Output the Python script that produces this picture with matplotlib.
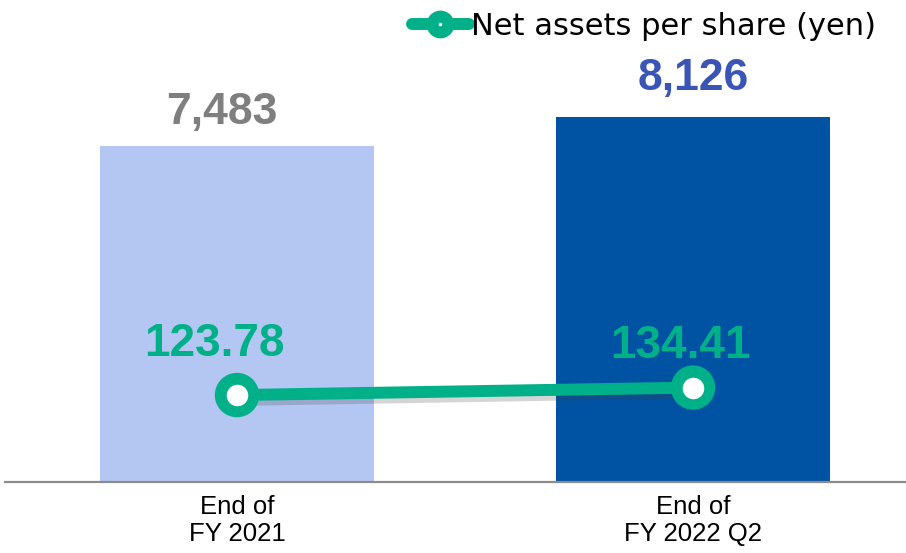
import matplotlib
matplotlib.use("Agg")
from matplotlib import pyplot as plt
from matplotlib import patheffects as pe
from matplotlib.lines import Line2D

# data
categories = ["End of\nFY 2021", "End of\nFY 2022 Q2"]
bar_values = [7483, 8126]
bar_labels = ["7,483", "8,126"]
nav_per_share = [123.78, 134.41]
nav_labels = ["123.78", "134.41"]

bar_colors = ["#B4C6F2", "#0052A3"]
bar_text_colors = ["#7F7F7F", "#3A55B5"]
green = "#00B088"

fig = plt.figure(figsize=(9.06, 5.53), dpi=100)
ax = fig.add_axes([0, 0, 1, 1])
x = list(range(len(categories)))

ax.bar(x, bar_values, width=0.601, color=bar_colors, zorder=1)
ax.set_xlim(-0.5197, 1.467)
ax.set_ylim(-1581, 10734)
ax.axhline(0, xmin=5 / 906, xmax=1, color="#8C8C8C", lw=1.6, zorder=2)

# bar value labels
offsets = [(-11, 24), (0, 28)]
for i, (v, lab) in enumerate(zip(bar_values, bar_labels)):
    ax.annotate(lab, (i, v), xytext=offsets[i], textcoords="offset points",
                ha="center", va="center", fontsize=32, fontweight="bold",
                color=bar_text_colors[i], family="Liberation Sans")

# category labels
for i, c in enumerate(categories):
    ax.annotate(c, (i, 0), xytext=(0, -9), textcoords="offset points",
                ha="center", va="top", fontsize=18.5, family="Liberation Sans",
                linespacing=1.2, color="black")

ax.axis("off")

# line on secondary scale
ax2 = ax.twinx()
ax2.set_ylim(-101, 686)
ax2.axis("off")
shadow = [pe.SimpleLineShadow(offset=(1.5, -3.5), shadow_color="#404040", alpha=0.22), pe.Normal()]
ax2.plot(x, nav_per_share, color=green, lw=8.6, solid_capstyle="round",
         marker="o", markersize=32, markerfacecolor=green, markeredgewidth=0,
         path_effects=shadow, zorder=3)
ax2.plot(x, nav_per_share, ls="none", marker="o", markersize=15.5,
         markerfacecolor="white", markeredgewidth=0, zorder=4)

line_offsets = [(-16.6, 36.7), (-9.4, 30)]
for i, (v, lab) in enumerate(zip(nav_per_share, nav_labels)):
    ax2.annotate(lab, (i, v), xytext=line_offsets[i], textcoords="offset points",
                 ha="center", va="center", fontsize=33, fontweight="bold",
                 color=green, family="Liberation Sans", zorder=5)

# legend
h_line = Line2D([], [], color=green, lw=8.6, marker="o", markersize=20,
                markerfacecolor=green, markeredgewidth=0, solid_capstyle="round")
h_dot = Line2D([], [], ls="none", marker="o", markersize=2.5,
               markerfacecolor="white", markeredgewidth=0)
ax2.legend([(h_line, h_dot)], ["Net assets per share (yen)"], loc="upper left",
           bbox_to_anchor=(412 / 906, 1 - 12 / 553), bbox_transform=fig.transFigure,
           frameon=False, borderpad=0, borderaxespad=0, handlelength=1.85,
           handletextpad=0.08, prop={"family": "DejaVu Sans", "size": 22})

fig.savefig("out.png", dpi=100)
